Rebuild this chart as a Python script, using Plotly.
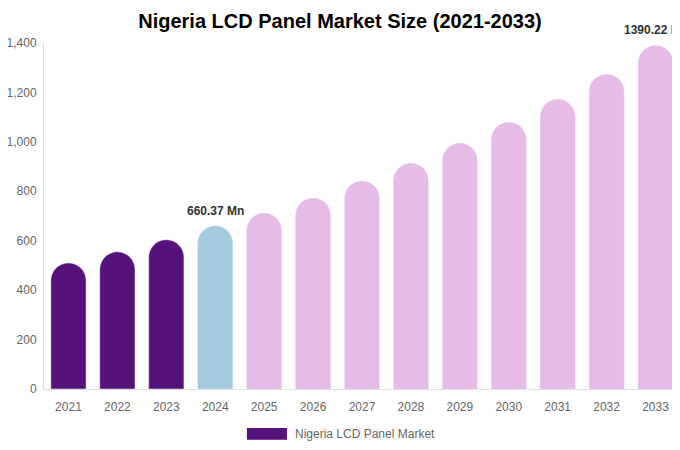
import plotly.graph_objects as go

# Data
years = ["2021", "2022", "2023", "2024", "2025", "2026", "2027",
         "2028", "2029", "2030", "2031", "2032", "2033"]
market_size = [510, 555, 604, 660.37, 712, 773, 842, 914, 995, 1080, 1173, 1274, 1390.22]
bar_colors = ["#54127A"] * 3 + ["#A3CADF"] + ["#E6BBE8"] * 9
labelled = {"2024": "660.37 Mn", "2033": "1390.22 Mn"}

fig = go.Figure()
fig.add_trace(go.Bar(
    x=years,
    y=market_size,
    marker=dict(color=bar_colors, cornerradius=18),
    name="Nigeria LCD Panel Market",
    showlegend=False,
    hoverinfo="x+y",
))

# value labels above the highlighted bars (category axis -> use index)
for yr, txt in labelled.items():
    i = years.index(yr)
    fig.add_annotation(
        x=i, y=market_size[i], text="<b>" + txt + "</b>",
        showarrow=False, yanchor="bottom", yshift=6,
        font=dict(size=12, color="#333333"),
    )

# custom legend: wide swatch + text
fig.add_shape(type="rect", xref="paper", yref="paper",
              x0=0.319, x1=0.382, y0=-0.147, y1=-0.113,
              fillcolor="#54127A", line=dict(width=0))
fig.add_annotation(xref="paper", yref="paper", x=0.3915, y=-0.130,
                   text="Nigeria LCD Panel Market", showarrow=False,
                   xanchor="left", yanchor="middle",
                   font=dict(size=12, color="#666666"))

# page body has an 8px margin, so the figure is sized 672x442
fig.update_layout(
    title=dict(text="<b>Nigeria LCD Panel Market Size (2021-2033)</b>",
               x=0.494, xanchor="center", y=0.9706, yanchor="middle",
               font=dict(size=20, color="#000000")),
    width=672, height=442,
    margin=dict(l=36, r=0, t=35, b=61),
    plot_bgcolor="white", paper_bgcolor="white",
    font=dict(family="Liberation Sans, Arial, sans-serif", size=12, color="#666666"),
    bargap=0.28,
)
fig.update_xaxes(type="category", range=[-0.5, 12.5], showline=True,
                 linecolor="#E0E0E0", linewidth=1, automargin=False,
                 showgrid=False, ticks="", ticklabelstandoff=7)
fig.update_yaxes(range=[0, 1400], dtick=200, tickformat=",",
                 showline=True, linecolor="#E0E0E0", linewidth=1,
                 automargin=False, showgrid=False, zeroline=False,
                 ticks="", ticklabelstandoff=4)

fig.write_html("out.html")
